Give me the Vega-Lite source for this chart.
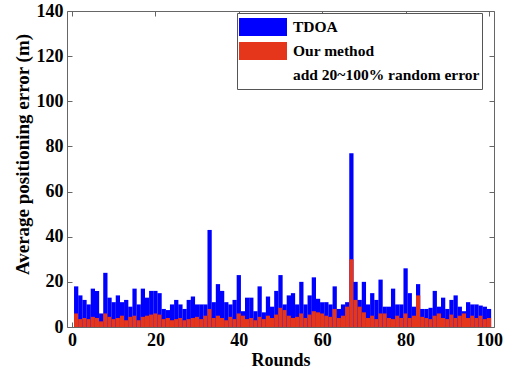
{
  "$schema": "https://vega.github.io/schema/vega-lite/v6.json",
  "width": 427,
  "height": 316,
  "autosize": "none",
  "padding": {"left": 67, "top": 11, "right": 19, "bottom": 45},
  "background": "white",
  "data": {"values": [
    {"round":1,"TDOA":18,"Our method":6},{"round":2,"TDOA":14,"Our method":3.5},{"round":3,"TDOA":12,"Our method":4},{"round":4,"TDOA":10,"Our method":3.5},{"round":5,"TDOA":17,"Our method":4.5},
    {"round":6,"TDOA":16,"Our method":4},{"round":7,"TDOA":6,"Our method":2.5},{"round":8,"TDOA":24,"Our method":6},{"round":9,"TDOA":13,"Our method":4.5},{"round":10,"TDOA":11,"Our method":3.5},
    {"round":11,"TDOA":14,"Our method":4},{"round":12,"TDOA":11,"Our method":5},{"round":13,"TDOA":12,"Our method":3},{"round":14,"TDOA":9,"Our method":4.5},{"round":15,"TDOA":17,"Our method":5},
    {"round":16,"TDOA":10,"Our method":3},{"round":17,"TDOA":17,"Our method":4.5},{"round":18,"TDOA":13,"Our method":5},{"round":19,"TDOA":16,"Our method":5.5},{"round":20,"TDOA":16,"Our method":6},
    {"round":21,"TDOA":15,"Our method":5.5},{"round":22,"TDOA":8,"Our method":3.5},{"round":23,"TDOA":7.5,"Our method":4},{"round":24,"TDOA":10,"Our method":3},{"round":25,"TDOA":12,"Our method":3.5},
    {"round":26,"TDOA":10,"Our method":4},{"round":27,"TDOA":8,"Our method":3},{"round":28,"TDOA":12,"Our method":3.5},{"round":29,"TDOA":13.5,"Our method":4},{"round":30,"TDOA":10,"Our method":4.5},
    {"round":31,"TDOA":10,"Our method":3.5},{"round":32,"TDOA":10,"Our method":5},{"round":33,"TDOA":43,"Our method":8},{"round":34,"TDOA":11,"Our method":4},{"round":35,"TDOA":19,"Our method":5},
    {"round":36,"TDOA":16,"Our method":4},{"round":37,"TDOA":11,"Our method":3},{"round":38,"TDOA":10,"Our method":4.5},{"round":39,"TDOA":12,"Our method":3.5},{"round":40,"TDOA":23,"Our method":6},
    {"round":41,"TDOA":7,"Our method":5},{"round":42,"TDOA":13,"Our method":3.5},{"round":43,"TDOA":13,"Our method":4},{"round":44,"TDOA":7,"Our method":3},{"round":45,"TDOA":18,"Our method":4.5},
    {"round":46,"TDOA":6.5,"Our method":3.5},{"round":47,"TDOA":13.5,"Our method":5},{"round":48,"TDOA":9,"Our method":4},{"round":49,"TDOA":16,"Our method":5.5},{"round":50,"TDOA":23,"Our method":8.5},
    {"round":51,"TDOA":10,"Our method":7.5},{"round":52,"TDOA":14,"Our method":5},{"round":53,"TDOA":15,"Our method":4},{"round":54,"TDOA":10,"Our method":4.5},{"round":55,"TDOA":20,"Our method":6},
    {"round":56,"TDOA":10,"Our method":4},{"round":57,"TDOA":14,"Our method":5.5},{"round":58,"TDOA":22,"Our method":7},{"round":59,"TDOA":12.5,"Our method":6.5},{"round":60,"TDOA":11,"Our method":6},
    {"round":61,"TDOA":11,"Our method":5},{"round":62,"TDOA":10,"Our method":4.5},{"round":63,"TDOA":18,"Our method":8},{"round":64,"TDOA":8,"Our method":4},{"round":65,"TDOA":10,"Our method":5},
    {"round":66,"TDOA":11,"Our method":9},{"round":67,"TDOA":77,"Our method":30},{"round":68,"TDOA":20,"Our method":12},{"round":69,"TDOA":12,"Our method":9},{"round":70,"TDOA":20,"Our method":6.5},
    {"round":71,"TDOA":10,"Our method":4},{"round":72,"TDOA":15,"Our method":5},{"round":73,"TDOA":12,"Our method":3.5},{"round":74,"TDOA":21,"Our method":6},{"round":75,"TDOA":9,"Our method":6},
    {"round":76,"TDOA":9,"Our method":4},{"round":77,"TDOA":17,"Our method":3.5},{"round":78,"TDOA":10,"Our method":5},{"round":79,"TDOA":10,"Our method":4},{"round":80,"TDOA":26,"Our method":6},
    {"round":81,"TDOA":15,"Our method":4},{"round":82,"TDOA":9,"Our method":5},{"round":83,"TDOA":19,"Our method":14},{"round":84,"TDOA":8,"Our method":4.5},{"round":85,"TDOA":8,"Our method":4},
    {"round":86,"TDOA":8.5,"Our method":3.5},{"round":87,"TDOA":16,"Our method":5},{"round":88,"TDOA":9,"Our method":6},{"round":89,"TDOA":13,"Our method":4},{"round":90,"TDOA":8,"Our method":3.5},
    {"round":91,"TDOA":12,"Our method":5.5},{"round":92,"TDOA":14,"Our method":4},{"round":93,"TDOA":9,"Our method":5},{"round":94,"TDOA":7,"Our method":6},{"round":95,"TDOA":11,"Our method":4},
    {"round":96,"TDOA":10,"Our method":5},{"round":97,"TDOA":10,"Our method":4},{"round":98,"TDOA":9.5,"Our method":5},{"round":99,"TDOA":9,"Our method":3.5},{"round":100,"TDOA":8,"Our method":4}
  ]},
  "transform": [{"fold": ["TDOA", "Our method"], "as": ["method", "error"]}],
  "layer": [
    {
      "mark": {"type": "bar", "width": 4.27, "clip": true},
      "encoding": {
        "x": {"field": "round", "type": "quantitative",
              "scale": {"domain": [0, 100], "nice": false},
              "axis": {"orient": "bottom", "values": [0, 20, 40, 60, 80, 100], "title": "Rounds", "titlePadding": 2}},
        "y": {"field": "error", "type": "quantitative", "stack": null,
              "scale": {"domain": [0, 140], "nice": false},
              "axis": {"orient": "left", "values": [0, 20, 40, 60, 80, 100, 120, 140], "title": "Average positioning error (m)", "titleFontSize": 19, "titleY": 143}},
        "color": {"field": "method", "type": "nominal",
                  "scale": {"domain": ["TDOA", "Our method", "add 20~100% random error"], "range": ["#0000ff", "#e5351b", "transparent"]},
                  "legend": {"title": null}}
      }
    },
    {
      "mark": {"type": "point", "opacity": 0},
      "encoding": {
        "x": {"field": "round", "type": "quantitative",
              "axis": {"orient": "top", "values": [0, 20, 40, 60, 80, 100], "labels": false, "title": null}},
        "y": {"field": "error", "type": "quantitative",
              "axis": {"orient": "right", "values": [0, 20, 40, 60, 80, 100, 120, 140], "labels": false, "title": null}}
      }
    }
  ],
  "resolve": {"axis": {"x": "independent", "y": "independent"}},
  "config": {
    "view": {"stroke": null},
    "axis": {
      "grid": false,
      "labelFont": "Times New Roman", "labelFontWeight": "bold", "labelFontSize": 18, "labelColor": "black",
      "titleFont": "Times New Roman", "titleFontWeight": "bold", "titleFontSize": 18, "titleColor": "black",
      "domainColor": "#666", "tickColor": "#666", "tickSize": -5, "labelPadding": 9
    },
    "legend": {
      "orient": "none", "legendX": 170, "legendY": 2,
      "strokeColor": "#555", "fillColor": "white", "padding": 2,
      "labelFont": "Times New Roman", "labelFontWeight": "bold", "labelFontSize": 15.5, "labelColor": "black", "labelLimit": 300,
      "symbolType": "M-1,-0.375H1V0.375H-1Z", "symbolSize": 2304, "symbolStrokeWidth": 0,
      "clipHeight": 24, "rowPadding": 0, "labelOffset": 6
    }
  }
}
